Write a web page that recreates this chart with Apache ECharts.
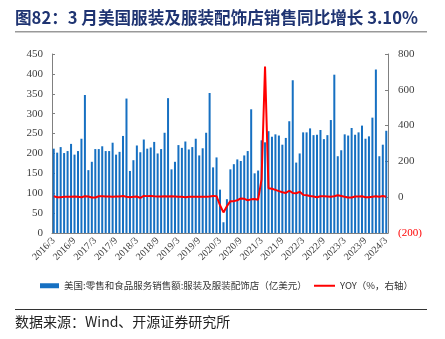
<!DOCTYPE html>
<html>
<head>
<meta charset="utf-8">
<script src="https://cdn.jsdelivr.net/npm/echarts@6/dist/echarts.min.js"></script>
<style>
html,body{margin:0;padding:0;background:#fff;}
#chart{width:445px;height:339px;}
</style>
</head>
<body>
<div id="chart"></div>
<script>
// Categories: monthly, 2016/3 to 2024/3
var startYear = 2016, startMonth = 3, monthCount = 97;
var categories = [];
for (var k = 0; k < monthCount; k++) {
  var m = startMonth - 1 + k;
  categories.push((startYear + Math.floor(m / 12)) + '/' + (m % 12 + 1));
}

// 美国:零售和食品服务销售额:服装及服装配饰店（亿美元）
var salesValues = [
  212,202,216,201,206,224,197,206,237,347,
  158,179,211,211,218,206,206,227,197,204,244,338,
  156,183,220,203,235,212,215,229,200,211,252,339,
  160,179,221,214,230,210,216,237,195,213,252,352,
  165,190,109,27,85,160,173,185,181,195,206,311,
  150,157,233,228,256,242,248,245,222,239,281,384,
  177,200,253,253,263,246,247,259,236,246,284,398,
  193,208,248,245,264,247,253,270,237,243,290,411,
  193,222,257
];

// YOY（%，右轴）
var yoyValues = [
  5,0,0,2,3,3,4,2,0,5,
  4,-2,-2,5,5,4,4,3,4,4,7,2,
  0,2,4,-4,7,6,7,5,4,4,5,4,
  5,4,3,2,0,2,2,3,2,3,3,4,
  7,6,-45,-85,-50,-22,-22,-17,-7,-9,-17,-12,
  -10,-14,100,730,50,47,41,34,28,24,36,24,
  22,30,13,11,7,4,0,5,5,4,3,5,
  11,7,2,-2,-2,4,4,5,0,0,3,5,
  3,7,3.1
];

var leftTicks = {min: 0, max: 450, interval: 50};
var rightTicks = {min: -200, max: 800, interval: 200};

var barName = '美国:零售和食品服务销售额:服装及服装配饰店（亿美元）';
var lineName = 'YOY（%，右轴）';

var chart = echarts.init(document.getElementById('chart'), null, {renderer: 'canvas'});
var serif = '"Liberation Serif","DejaVu Serif",serif';
var cjk = '"Noto Sans CJK SC","Noto Sans",sans-serif';

chart.setOption({
  animation: false,
  backgroundColor: '#fff',
  grid: {left: 52, right: 57, top: 54, bottom: 106, containLabel: false},
  legend: [
    {data: [barName], left: 35, top: 276, icon: 'rect', itemWidth: 19, itemHeight: 5, itemGap: 4,
     textStyle: {fontSize: 9.5, color: '#333', fontFamily: cjk}},
    {data: [lineName], left: 309, top: 276, icon: 'rect', itemWidth: 21, itemHeight: 2,
     textStyle: {fontSize: 9.5, color: '#333', fontFamily: cjk}}
  ],
  xAxis: {
    type: 'category', data: categories, boundaryGap: true,
    axisLine: {lineStyle: {color: '#808080', width: 1}},
    axisTick: {interval: 5, inside: true, length: 3, lineStyle: {color: '#808080'}},
    axisLabel: {interval: 5, rotate: 45, fontSize: 10, color: '#404040', fontFamily: serif, margin: 6}
  },
  yAxis: [
    {type: 'value', min: leftTicks.min, max: leftTicks.max, interval: leftTicks.interval,
     splitLine: {show: false},
     axisLine: {show: true, lineStyle: {color: '#808080'}},
     axisTick: {show: true, inside: true, length: 3, lineStyle: {color: '#808080'}},
     axisLabel: {fontSize: 11, color: '#404040', fontFamily: serif, margin: 9}},
    {type: 'value', min: rightTicks.min, max: rightTicks.max, interval: rightTicks.interval,
     splitLine: {show: false},
     axisLine: {show: true, lineStyle: {color: '#808080'}},
     axisTick: {show: true, inside: true, length: 3, lineStyle: {color: '#808080'}},
     axisLabel: {fontSize: 11, color: '#404040', fontFamily: serif, margin: 10,
       formatter: function (v) { return v < 0 ? '{neg|(' + Math.abs(v) + ')}' : String(v); },
       rich: {neg: {color: '#FF0000', fontSize: 11, fontFamily: serif}}}}
  ],
  series: [
    {name: barName, type: 'bar', yAxisIndex: 0, data: salesValues, barWidth: '58%',
     itemStyle: {color: '#1670C2'}},
    {name: lineName, type: 'line', yAxisIndex: 1, data: yoyValues, showSymbol: false, symbol: 'none',
     lineStyle: {color: '#FF0000', width: 2}, itemStyle: {color: '#FF0000'}}
  ],
  graphic: [
    {type: 'text', left: 15, top: 9, style: {text: '图82：3 月美国服装及服装配饰店销售同比增长 3.10%',
      font: 'bold 16.6px ' + cjk, fill: '#1F3472'}},
    {type: 'rect', shape: {x: 15, y: 31, width: 412, height: 1.5}, style: {fill: '#999'}},
    {type: 'rect', shape: {x: 15, y: 309, width: 412, height: 1}, style: {fill: '#333'}},
    {type: 'text', left: 15, top: 315, style: {text: '数据来源：Wind、开源证券研究所',
      font: '14px ' + cjk, fill: '#222'}}
  ]
});
</script>
</body>
</html>
